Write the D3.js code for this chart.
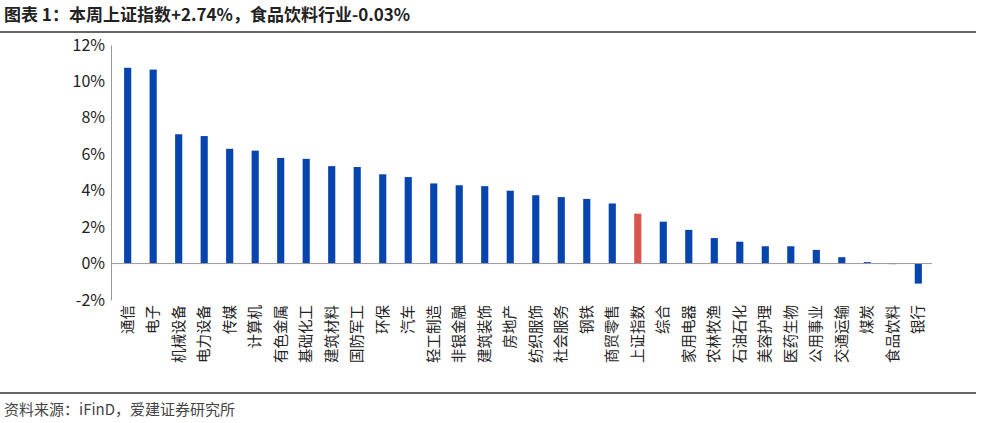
<!DOCTYPE html>
<html><head><meta charset="utf-8">
<script src="https://cdn.jsdelivr.net/npm/d3@7"></script>
<style>body{margin:0;background:#fff;font-family:"Noto Sans CJK SC","Noto Sans",sans-serif;}</style>
</head><body><svg width="998" height="423"></svg>
<script>
const categories = ["通信","电子","机械设备","电力设备","传媒","计算机","有色金属","基础化工","建筑材料","国防军工","环保","汽车","轻工制造","非银金融","建筑装饰","房地产","纺织服饰","社会服务","钢铁","商贸零售","上证指数","综合","家用电器","农林牧渔","石油石化","美容护理","医药生物","公用事业","交通运输","煤炭","食品饮料","银行"];
const values = [10.75,10.65,7.1,7.0,6.3,6.2,5.8,5.75,5.35,5.3,4.9,4.75,4.4,4.3,4.25,4.0,3.75,3.65,3.55,3.3,2.74,2.3,1.85,1.4,1.2,0.95,0.95,0.75,0.35,0.08,-0.03,-1.1];
const yTicks = [-2,0,2,4,6,8,10,12];

const svg = d3.select("svg");
const font = "'Noto Sans CJK SC', sans-serif";

svg.append("text").attr("x", 4).attr("y", 21).attr("font-size", 17).attr("font-weight", "bold")
    .attr("fill", "#222").attr("font-family", font).text("图表 1：本周上证指数+2.74%，食品饮料行业-0.03%");
svg.append("line").attr("x1", 0).attr("x2", 976).attr("y1", 32).attr("y2", 32).attr("stroke", "#333").attr("stroke-width", 1.5);
svg.append("line").attr("x1", 0).attr("x2", 976).attr("y1", 393).attr("y2", 393).attr("stroke", "#333").attr("stroke-width", 1.5);
svg.append("text").attr("x", 4).attr("y", 415).attr("font-size", 15)
    .attr("fill", "#444").attr("font-family", font).text("资料来源：iFinD，爱建证券研究所");

const x = d3.scaleBand().domain(categories).range([119, 927]).paddingInner(0.72).paddingOuter(0.2);
const y = d3.scaleLinear().domain([-2, 12]).range([300, 45]);

svg.append("g").attr("transform", "translate(111,0)")
    .call(d3.axisLeft(y).tickValues(yTicks).tickFormat(d => d + "%").tickSize(0).tickPadding(6))
    .call(g => g.select(".domain").attr("stroke", "#999"))
    .selectAll("text").attr("font-size", 16).attr("fill", "#222").attr("font-family", font);

svg.selectAll("rect.bar").data(values).join("rect")
    .attr("class", "bar")
    .attr("x", (d, i) => x(categories[i]))
    .attr("width", x.bandwidth())
    .attr("y", d => y(Math.max(0, d)))
    .attr("height", d => Math.abs(y(d) - y(0)))
    .attr("fill", (d, i) => categories[i] === "上证指数" ? "#d9534f" : "#0645ad");

svg.append("line").attr("x1", 111).attr("x2", 932).attr("y1", y(0)).attr("y2", y(0)).attr("stroke", "#999");

svg.selectAll("text.cat").data(categories).join("text")
    .attr("class", "cat")
    .attr("transform", d => `translate(${x(d) + x.bandwidth() / 2 + 5},${305}) rotate(-90)`)
    .attr("text-anchor", "end")
    .attr("font-size", 14.5).attr("fill", "#222").attr("font-family", font)
    .text(d => d);
</script></body></html>
